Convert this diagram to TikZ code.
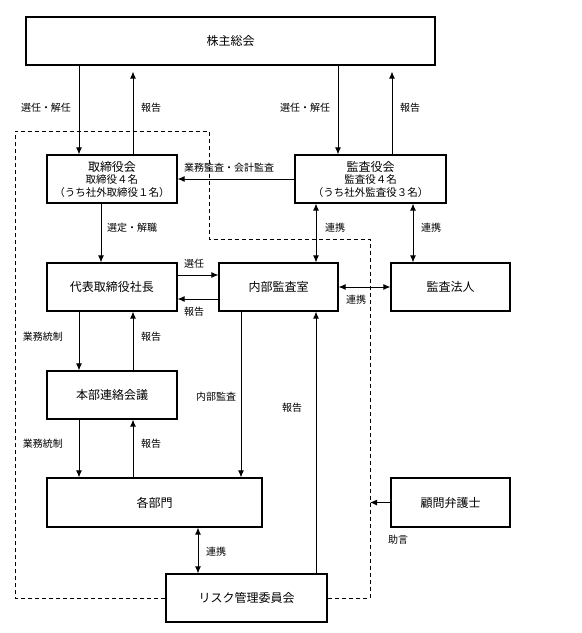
\documentclass[tikz,border=0pt]{standalone}
\usepackage{fontspec}
\setmainfont{Noto Sans CJK JP}
\usetikzlibrary{arrows.meta}

\begin{document}
\begin{tikzpicture}[
		x=1pt, y=-1pt,
		every node/.style={font=\fontsize{10}{12}\selectfont, inner sep=0pt},
		box/.style={draw, line width=1.1pt, minimum height=48pt, align=center, font=\fontsize{12}{14}\selectfont},
		sub/.style={font=\fontsize{10.5}{12}\selectfont},
		arr/.style={line width=1pt, -{Latex[length=7pt,width=6pt]}},
		dbl/.style={line width=1pt, {Latex[length=7pt,width=6pt]}-{Latex[length=7pt,width=6pt]}}
	]
  \useasboundingbox (0,0) rectangle (582,633);
  % boxes
  \node (kabu) [box, minimum width=409pt] at (230.5, 41) {株主総会};
  \node (tori) [box, minimum width=130pt] at (112, 179) {取締役会\\[-2pt]{\fontsize{10.5}{12}\selectfont 取締役４名}\\[-1pt]{\fontsize{10.5}{12}\selectfont （うち社外取締役１名）}};
  \node (kansa) [box, minimum width=151pt] at (370.5, 179) {監査役会\\[-2pt]{\fontsize{10.5}{12}\selectfont 監査役４名}\\[-1pt]{\fontsize{10.5}{12}\selectfont （うち社外監査役３名）}};
  \node (shacho) [box, minimum width=130pt] at (112, 287) {代表取締役社長};
  \node (naibu) [box, minimum width=119pt] at (278.5, 287) {内部監査室};
  \node (hojin) [box, minimum width=119pt] at (450.5, 287) {監査法人};
  \node (honbu) [box, minimum width=130pt] at (112, 395) {本部連絡会議};
  \node (kakubu) [box, minimum width=215pt, minimum height=49pt] at (154.5, 502.5) {各部門};
  \node (bengo) [box, minimum width=119pt, minimum height=49pt] at (450.5, 502.5) {顧問弁護士};
  \node (risk) [box, minimum width=161pt] at (246.5, 598) {リスク管理委員会};

  % dashed boundary
  \draw [line width=1pt, dash pattern=on 4pt off 3pt] (risk.west) -| (15,131) -| (209,239) -| (370,598) -- (risk.east);
  \coordinate (rim) at (370,502.5);

  % connectors
  \draw [arr] ([xshift=-33pt]tori.north |- kabu.south) -- ([xshift=-33pt]tori.north);
  \draw [arr, shorten >=6pt] ([xshift=21pt]tori.north) -- ([xshift=21pt]tori.north |- kabu.south);
  \draw [arr] ([xshift=-32.5pt]kansa.north |- kabu.south) -- ([xshift=-32.5pt]kansa.north);
  \draw [arr, shorten >=6pt] ([xshift=21.5pt]kansa.north) -- ([xshift=21.5pt]kansa.north |- kabu.south);
  \draw [arr] (kansa.west) -- (tori.east);
  \draw [arr] ([xshift=-11pt]tori.south) -- ([xshift=-11pt]shacho.north);
  \draw [dbl] ([xshift=37.5pt]naibu.north) -- ([xshift=37.5pt]naibu.north |- kansa.south);
  \draw [dbl] ([xshift=-37.5pt]hojin.north) -- ([xshift=-37.5pt]hojin.north |- kansa.south);
  \draw [arr] ([yshift=12pt]shacho.east) -- ([yshift=12pt]shacho.east -| naibu.west);
  \draw [arr] ([yshift=-12pt]naibu.west) -- ([yshift=-12pt]naibu.west -| shacho.east);
  \draw [dbl] (naibu.east) -- (hojin.west);
  \draw [arr] ([xshift=-33pt]shacho.south) -- ([xshift=-33pt]honbu.north);
  \draw [arr] ([xshift=21pt]honbu.north) -- ([xshift=21pt]shacho.south);
  \draw [arr] ([xshift=-33pt]honbu.south) -- ([xshift=-33pt]honbu.south |- kakubu.north);
  \draw [arr] ([xshift=21pt]honbu.south |- kakubu.north) -- ([xshift=21pt]honbu.south);
  \draw [arr] ([xshift=-37.5pt]naibu.south) -- ([xshift=-37.5pt]naibu.south |- kakubu.north);
  \draw [arr] ([xshift=69.5pt]risk.north) -- ([xshift=37.5pt]naibu.south);
  \draw [dbl] ([xshift=43.5pt]kakubu.south) -- ([xshift=43.5pt]kakubu.south |- risk.north);
  \draw [arr] (bengo.west) -- (rim);

  % labels
  \node (l_sen1) at (46, 108) {選任・解任};
  \node (l_hou1) at (151, 108) {報告};
  \node (l_sen2) at (305, 108) {選任・解任};
  \node (l_hou2) at (410, 108) {報告};
  \node (l_gyomu) at (229, 168) {業務監査・会計監査};
  \node (l_sentei) at (132, 228) {選定・解職};
  \node (l_ren1) at (335, 228) {連携};
  \node (l_ren2) at (431, 228) {連携};
  \node (l_sen3) at (194, 264) {選任};
  \node (l_hou3) at (194, 312) {報告};
  \node (l_ren3) at (356, 300) {連携};
  \node (l_tou1) at (43, 337) {業務統制};
  \node (l_hou4) at (151, 337) {報告};
  \node (l_naibu) at (216, 397) {内部監査};
  \node (l_hou5) at (292, 408) {報告};
  \node (l_tou2) at (43, 444) {業務統制};
  \node (l_hou6) at (151, 444) {報告};
  \node (l_ren4) at (216, 552) {連携};
  \node (l_jogen) at (398, 540) {助言};
\end{tikzpicture}
\end{document}
